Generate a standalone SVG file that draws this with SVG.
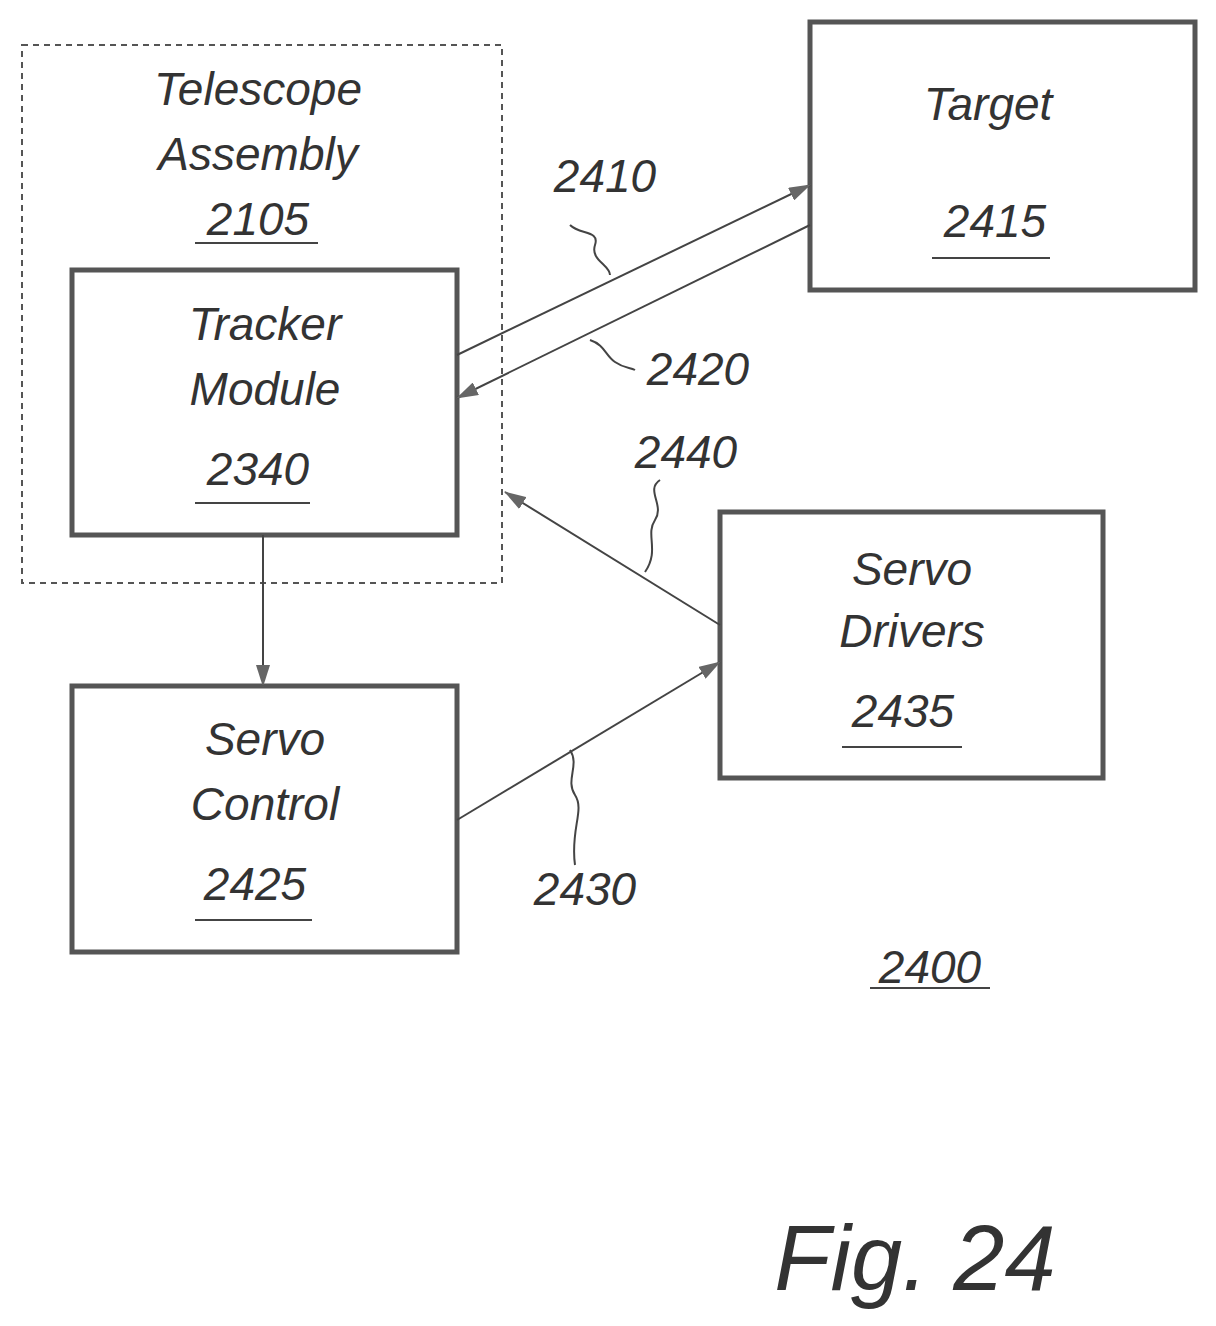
<svg xmlns="http://www.w3.org/2000/svg" width="1216" height="1326" viewBox="0 0 1216 1326">
<style>
text{font-family:"Liberation Sans",Arial,sans-serif;font-style:italic;font-size:46px;fill:#333;text-anchor:middle}
.box{fill:none;stroke:#555;stroke-width:5}
.ln{fill:none;stroke:#444;stroke-width:2}
.u{stroke:#444;stroke-width:2}
</style>
<defs><marker id="a" markerWidth="22" markerHeight="14" refX="21" refY="7" orient="auto" markerUnits="userSpaceOnUse" viewBox="0 0 22 14"><path d="M0,0L22,7L0,14z" fill="#666"/></marker></defs>
<rect width="1216" height="1326" fill="#fff"/>
<g id="telescope"><rect x="22" y="45" width="480" height="538" fill="none" stroke="#555" stroke-width="2" stroke-dasharray="6,5"/>
<text x="258" y="105">Telescope</text><text x="258" y="170">Assembly</text><text x="258" y="235">2105</text><line class="u" x1="195" y1="243" x2="318" y2="243"/></g>
<g id="tracker"><rect class="box" x="72" y="270" width="385" height="265"/>
<text x="265" y="340">Tracker</text><text x="265" y="405">Module</text><text x="258" y="485">2340</text><line class="u" x1="195" y1="503" x2="310" y2="503"/></g>
<g id="target"><rect class="box" x="810" y="22" width="385" height="268"/>
<text x="988" y="120">Target</text><text x="995" y="237">2415</text><line class="u" x1="932" y1="258" x2="1050" y2="258"/></g>
<g id="drivers"><rect class="box" x="720" y="512" width="383" height="266"/>
<text x="912" y="585">Servo</text><text x="912" y="647">Drivers</text><text x="903" y="727">2435</text><line class="u" x1="842" y1="747" x2="962" y2="747"/></g>
<g id="control"><rect class="box" x="72" y="686" width="385" height="266"/>
<text x="265" y="755">Servo</text><text x="265" y="820">Control</text><text x="255" y="900">2425</text><line class="u" x1="195" y1="920" x2="312" y2="920"/></g>
<g id="labels"><text x="605" y="192">2410</text><text x="698" y="385">2420</text><text x="686" y="468">2440</text><text x="585" y="905">2430</text>
<text x="930" y="983">2400</text><line class="u" x1="870" y1="988" x2="990" y2="988"/>
<text x="915" y="1290" style="font-size:92px">Fig. 24</text></g>
<g id="connectors">
<line class="ln" x1="457" y1="355" x2="810" y2="185" marker-end="url(#a)"/>
<line class="ln" x1="810" y1="225" x2="457" y2="398" marker-end="url(#a)"/>
<line class="ln" x1="720" y1="625" x2="505" y2="492" marker-end="url(#a)"/>
<line class="ln" x1="457" y1="820" x2="720" y2="662" marker-end="url(#a)"/>
<line class="ln" x1="263" y1="535" x2="263" y2="686" marker-end="url(#a)"/>
<path class="ln" d="M570,225c10,10 30,5 25,20s15,20 15,30"/>
<path class="ln" d="M590,340c15,5 15,15 25,22s15,5 20,8"/>
<path class="ln" d="M660,480c-15,10 5,25 -5,40s5,30 -10,52"/>
<path class="ln" d="M570,750c10,15 -5,30 5,45s-5,35 0,70"/>
</g>
</svg>
